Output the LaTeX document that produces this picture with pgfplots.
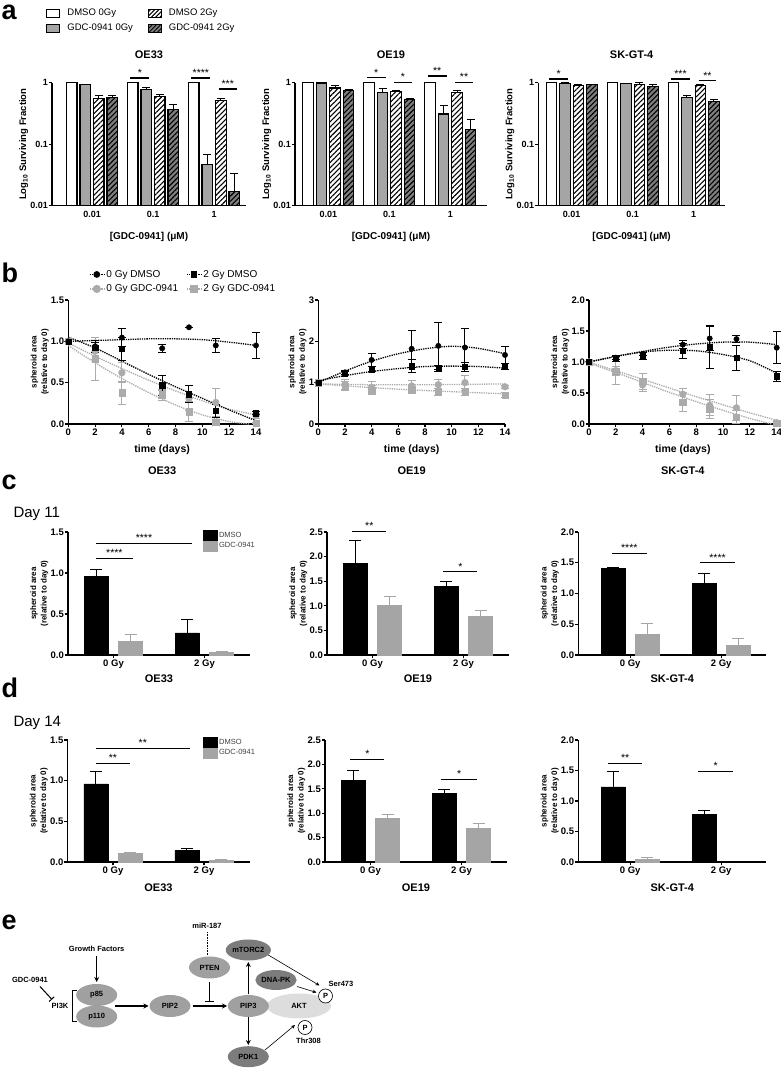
\documentclass[border=0pt]{standalone}
\usepackage{fontspec}
\setmainfont{Liberation Sans}
\usepackage{pgfplots}
\pgfplotsset{compat=1.18}
\usetikzlibrary{patterns.meta,shapes.geometric,arrows.meta}
\definecolor{gbar}{HTML}{A5A5A5}
\definecolor{gdark}{HTML}{7E7E7E}
\definecolor{gmark}{HTML}{ABABAB}
\definecolor{ecl}{HTML}{A0A0A0}
\definecolor{ecd}{HTML}{7C7C7C}
\definecolor{ecll}{HTML}{DDDDDD}
\newcommand{\fs}[1]{\fontsize{#1}{#1}\selectfont}
\newcommand{\sig}[4]{\draw[line width=1.2pt] (axis cs:#1,#3) -- (axis cs:#2,#3) node[midway,above,inner sep=1pt,font=\fs{10.5}] {#4};}
\pgfplotsset{
 mygp/.style={scale only axis, clip=false, axis lines*=left,
   axis line style={line width=1.3pt,-}, tick style={line width=1.1pt,black},
   tick align=outside, major tick length=3.5pt,
   tick label style={font=\fs{9.5}\bfseries},
   yticklabel style={inner sep=0.5pt}, xticklabel style={inner sep=1.5pt},
   ylabel style={font=\fontsize{8}{10.5}\selectfont\bfseries, align=center, inner sep=1.5pt},
   every axis x label/.style={at={(axis description cs:0.5,0)}, anchor=center},
   xlabel style={font=\fs{11}\bfseries},
 },
 mypa/.style={mygp, ymin=0.01, ymax=1, yminorticks=false,
   ytick={0.01,0.1,1}, yticklabels={0.01,0.1,1}, xtick={0,1,2}, xticklabels={0.01,0.1,1},
   xtick style={draw=none}, height=123pt,
   tick label style={font=\fs{9}\bfseries},
   ylabel={Log\textsubscript{10} Surviving Fraction}, ylabel style={font=\fs{9.5}\bfseries},
   xlabel={[GDC-0941] (μM)}, xlabel style={font=\fs{10}\bfseries, yshift=-31pt},
   every axis title/.style={at={(0.5,1)}, anchor=center, yshift=27.5pt, font=\fs{11}\bfseries},
 },
 mypb/.style={mygp, height=124pt, xmin=0, xmax=14, xtick={0,2,...,14}, ymin=0,
   ylabel={spheroid area\\(relative to day 0)},
   xlabel={time (days)}, xlabel style={font=\fs{10.5}\bfseries, yshift=-26pt}},
 mypc/.style={mygp, width=182pt, height=123pt, xmin=-0.5, xmax=1.5, xtick={0,1}, xticklabels={0 Gy,2 Gy}, ymin=0,
   ylabel={spheroid area\\(relative to day 0)}, xlabel style={yshift=-24pt}},
 mypd/.style={mypc, height=122pt, xlabel style={yshift=-1.7pt}},
 myabar/.style={ybar, bar width=10.5pt, bar shift=0pt, draw=black, line width=1.1pt},
 mywb/.style={myabar, fill=white},
 mygb/.style={myabar, fill=gbar},
 myhb/.style={myabar, pattern={Lines[angle=45,distance=3.6pt,line width=1.1pt]}},
 mydb/.style={myabar, preaction={fill=gdark}, pattern={Lines[angle=45,distance=3.6pt,line width=1.1pt]}},
 myaerr/.style={error bars/.cd, y dir=plus, y explicit, error bar style={line width=1pt,black,solid}, error mark options={rotate=90,mark size=4pt,line width=1pt,black}},
 mybk/.style={black, only marks, mark=*, mark size=2.7pt, mark options={solid}},
 mybks/.style={black, only marks, mark=square*, mark size=2.6pt, mark options={solid}},
 mygc/.style={gmark, only marks, mark=*, mark size=3.4pt, mark options={solid}},
 mygs/.style={gmark, only marks, mark=square*, mark size=3.2pt, mark options={solid}},
 myfitk/.style={black, densely dotted, line width=1.3pt, no marks, smooth, forget plot},
 myfitg/.style={gmark, densely dotted, line width=1.3pt, no marks, smooth, forget plot},
 myberr/.style={error bars/.cd, y dir=both, y explicit, error bar style={line width=1pt,solid}, error mark options={rotate=90,mark size=4pt,line width=1pt,solid}},
 mykbar/.style={ybar, bar width=24pt, bar shift=0pt, fill=black, draw=black},
 mygbarp/.style={ybar, bar width=24pt, bar shift=0pt, color=gbar, fill=gbar},
 mycerr/.style={error bars/.cd, y dir=plus, y explicit, error bar style={line width=1pt}, error mark options={rotate=90,mark size=6pt,line width=1pt}},
}
\begin{document}
\begin{tikzpicture}
\useasboundingbox (0pt,0pt) rectangle (781pt,1068pt);
% ================= panel a =================
\begin{axis}[mypa, ymode=log, log origin=infty, /pgf/number format/assume math mode=true,
  at={(52pt,862.3pt)}, anchor=south west, width=194pt, xmin=-0.656, xmax=2.524, title={OE33},
  legend style={at={(-0.045,1.625)}, anchor=north west, draw=none, fill=none, font=\fs{9.5}, legend columns=2, /tikz/every even column/.append style={column sep=14pt}, row sep=5pt, nodes={inner sep=1pt}},
  legend cell align=left,
  legend image code/.code={\draw[#1] (0pt,-4pt) rectangle (13pt,4pt); \path (19pt,0pt);}]
\addlegendimage{draw=black, line width=1pt, fill=white}
\addlegendentry{DMSO 0Gy}
\addlegendimage{draw=black, line width=1pt, pattern={Lines[angle=45,distance=3pt,line width=1pt]}}
\addlegendentry{DMSO 2Gy}
\addlegendimage{draw=black, line width=1pt, fill=gbar}
\addlegendentry{GDC-0941 0Gy}
\addlegendimage{draw=black, line width=1pt, preaction={fill=gdark}, pattern={Lines[angle=45,distance=3pt,line width=1pt]}}
\addlegendentry{GDC-0941 2Gy}
\addplot[mywb, forget plot] coordinates {(-0.332,1) (0.668,1) (1.668,1)};
\addplot[mygb, forget plot, myaerr] coordinates {(-0.111,0.92) +- (0,0.03) (0.889,0.78) +- (0,0.05) (1.889,0.047) +- (0,0.02)};
\addplot[myhb, forget plot, myaerr] coordinates {(0.111,0.56) +- (0,0.05) (1.111,0.59) +- (0,0.05) (2.111,0.52) +- (0,0.03)};
\addplot[mydb, forget plot, myaerr] coordinates {(0.332,0.57) +- (0,0.06) (1.332,0.37) +- (0,0.08) (2.332,0.017) +- (0,0.016)};
\sig{0.63}{0.94}{1.19}{*}
\sig{1.63}{1.94}{1.19}{****}
\sig{2.08}{2.37}{0.79}{***}
\end{axis}
\begin{axis}[mypa, ymode=log, log origin=infty, /pgf/number format/assume math mode=true,
  at={(295pt,862.3pt)}, anchor=south west, width=192pt, xmin=-0.546, xmax=2.602, title={OE19}]
\addplot[mywb] coordinates {(-0.332,1) (0.668,1) (1.668,1)};
\addplot[mygb, myaerr] coordinates {(-0.111,0.99) +- (0,0.01) (0.889,0.70) +- (0,0.09) (1.889,0.31) +- (0,0.11)};
\addplot[myhb, myaerr] coordinates {(0.111,0.82) +- (0,0.08) (1.111,0.73) +- (0,0.03) (2.111,0.70) +- (0,0.05)};
\addplot[mydb, myaerr] coordinates {(0.332,0.75) +- (0,0.02) (1.332,0.53) +- (0,0.02) (2.332,0.174) +- (0,0.075)};
\sig{0.63}{0.94}{1.2}{*}
\sig{1.08}{1.37}{1.02}{*}
\sig{1.63}{1.94}{1.28}{**}
\sig{2.08}{2.37}{1.02}{**}
\end{axis}
\begin{axis}[mypa, ymode=log, log origin=infty, /pgf/number format/assume math mode=true,
  at={(538.3pt,862.3pt)}, anchor=south west, width=186.7pt, xmin=-0.547, xmax=2.514, title={SK-GT-4}]
\addplot[mywb] coordinates {(-0.332,1) (0.668,1) (1.668,1)};
\addplot[mygb, myaerr] coordinates {(-0.111,0.98) +- (0,0.01) (0.889,0.97) +- (0,0.01) (1.889,0.58) +- (0,0.04)};
\addplot[myhb, myaerr] coordinates {(0.111,0.90) +- (0,0.02) (1.111,0.92) +- (0,0.07) (2.111,0.90) +- (0,0.03)};
\addplot[mydb, myaerr] coordinates {(0.332,0.93) +- (0,0.02) (1.332,0.86) +- (0,0.07) (2.332,0.50) +- (0,0.03)};
\sig{-0.37}{-0.06}{1.15}{*}
\sig{1.63}{1.94}{1.15}{***}
\sig{2.08}{2.37}{1.07}{**}
\end{axis}
% ================= panel b =================
\begin{axis}[mypb, /pgf/number format/assume math mode=true, at={(68.3pt,644pt)}, anchor=south west, width=187.7pt, ymax=1.5,
  ytick={0,0.5,1,1.5}, yticklabels={0.0,0.5,1.0,1.5},
  legend style={at={(0.094,1.274)}, anchor=north west, draw=none, fill=none, font=\fs{10}, legend columns=2, /tikz/every even column/.append style={column sep=6pt}, row sep=2pt},
  legend cell align=left,
  legend image code/.code={\draw[mark repeat=2,mark phase=2,#1] plot coordinates {(0pt,0pt) (7pt,0pt) (14pt,0pt)};}]
\addlegendimage{black, densely dotted, line width=1.3pt, mark=*, mark size=2.7pt, mark options={solid}}
\addlegendentry{0 Gy DMSO}
\addlegendimage{black, densely dotted, line width=1.3pt, mark=square*, mark size=2.6pt, mark options={solid}}
\addlegendentry{2 Gy DMSO}
\addlegendimage{gmark, densely dotted, line width=1.3pt, mark=*, mark size=3.4pt, mark options={solid}}
\addlegendentry{0 Gy GDC-0941}
\addlegendimage{gmark, densely dotted, line width=1.3pt, mark=square*, mark size=3.2pt, mark options={solid}}
\addlegendentry{2 Gy GDC-0941}
\addplot[myfitg] coordinates {(0,0.98) (2,0.82) (4,0.67) (6,0.53) (8,0.40) (10,0.28) (12,0.18) (14,0.11)};
\addplot[myfitg] coordinates {(0,0.95) (2,0.74) (4,0.55) (6,0.38) (8,0.23) (10,0.11) (12,0.03) (13.5,0)};
\addplot[myfitk] coordinates {(0,1.0) (2,1.01) (4,1.02) (6,1.03) (8,1.03) (10,1.02) (12,0.99) (14,0.95)};
\addplot[myfitk] coordinates {(0,1.05) (2,0.92) (4,0.76) (6,0.60) (8,0.45) (10,0.31) (12,0.17) (14,0.04)};
\addplot[mygc, forget plot, myberr] coordinates {(0,1) +- (0,0) (2,0.88) +- (0,0.1) (4,0.62) +- (0,0.12) (7,0.35) +- (0,0.07) (9,0.31) +- (0,0.15) (11,0.26) +- (0,0.17) (14,0.10) +- (0,0.03)};
\addplot[mygs, forget plot, myberr] coordinates {(0,1) +- (0,0) (2,0.79) +- (0,0.26) (4,0.38) +- (0,0.14) (7,0.36) +- (0,0.05) (9,0.15) +- (0,0.12) (11,0.02) +- (0,0.02) (14,0.01) +- (0,0.01)};
\addplot[mybk, forget plot, myberr] coordinates {(0,1) +- (0,0) (2,0.94) +- (0,0.07) (4,1.045) +- (0,0.11) (7,0.915) +- (0,0.05) (9,1.17) +- (0,0) (11,0.95) +- (0,0.09) (14,0.95) +- (0,0.16)};
\addplot[mybks, forget plot, myberr] coordinates {(0,1) +- (0,0) (2,0.92) +- (0,0.06) (4,0.91) +- (0,0.14) (7,0.47) +- (0,0.12) (9,0.36) +- (0,0.1) (11,0.16) +- (0,0.08) (14,0.13) +- (0,0.02)};
\node[font=\fs{11}\bfseries, yshift=-47pt] at (axis description cs:0.5,0) {OE33};
\end{axis}
\begin{axis}[mypb, /pgf/number format/assume math mode=true, at={(318.3pt,644pt)}, anchor=south west, width=186.7pt, ymax=3,
  ytick={0,1,2,3}, yticklabels={0,1,2,3}]
\addplot[myfitg] coordinates {(0,0.97) (4,0.95) (8,0.95) (14,0.97)};
\addplot[myfitg] coordinates {(0,0.97) (4,0.88) (8,0.81) (14,0.73)};
\addplot[myfitk] coordinates {(0,1.0) (2,1.28) (4,1.52) (6,1.70) (8,1.82) (10,1.88) (12,1.83) (14,1.70)};
\addplot[myfitk] coordinates {(0,1.05) (2,1.17) (4,1.27) (6,1.34) (8,1.39) (10,1.40) (12,1.39) (14,1.35)};
\addplot[mygc, myberr] coordinates {(0,1) +- (0,0) (2,0.95) +- (0,0.12) (4,0.88) +- (0,0.16) (7,0.92) +- (0,0.13) (9,0.95) +- (0,0.13) (11,1.0) +- (0,0.18) (14,0.90) +- (0,0.04)};
\addplot[mygs, myberr] coordinates {(0,1) +- (0,0) (2,0.92) +- (0,0.1) (4,0.82) +- (0,0.1) (7,0.83) +- (0,0.08) (9,0.78) +- (0,0.09) (11,0.78) +- (0,0.09) (14,0.70) +- (0,0.07)};
\addplot[mybk, myberr] coordinates {(0,1) +- (0,0) (2,1.25) +- (0,0.05) (4,1.55) +- (0,0.16) (7,1.82) +- (0,0.45) (9,1.89) +- (0,0.56) (11,1.85) +- (0,0.46) (14,1.67) +- (0,0.2)};
\addplot[mybks, myberr] coordinates {(0,1) +- (0,0) (2,1.23) +- (0,0.04) (4,1.32) +- (0,0.06) (7,1.40) +- (0,0.16) (9,1.35) +- (0,0.07) (11,1.38) +- (0,0.1) (14,1.39) +- (0,0.07)};
\node[font=\fs{11}\bfseries, yshift=-47pt] at (axis description cs:0.5,0) {OE19};
\end{axis}
\begin{axis}[mypb, /pgf/number format/assume math mode=true, at={(589pt,644pt)}, anchor=south west, width=187.7pt, ymax=2,
  ytick={0,0.5,1,1.5,2}, yticklabels={0.0,0.5,1.0,1.5,2.0}]
\addplot[myfitg] coordinates {(0,1.0) (2,0.86) (4,0.72) (6,0.58) (8,0.44) (10,0.31) (12,0.18) (14,0.06)};
\addplot[myfitg] coordinates {(0,0.98) (2,0.83) (4,0.67) (6,0.51) (8,0.36) (10,0.22) (12,0.09) (13.6,0)};
\addplot[myfitk] coordinates {(0,1) (2,1.09) (4,1.17) (6,1.24) (8,1.29) (10,1.32) (12,1.32) (14,1.28)};
\addplot[myfitk] coordinates {(0,1.0) (2,1.09) (4,1.16) (6,1.19) (8,1.18) (10,1.12) (12,1.02) (14,0.82)};
\addplot[mygc, myberr] coordinates {(0,1) +- (0,0) (2,0.86) +- (0,0.07) (4,0.63) +- (0,0.1) (7,0.48) +- (0,0.1) (9,0.30) +- (0,0.17) (11,0.26) +- (0,0.2) (14,0.02) +- (0,0.02)};
\addplot[mygs, myberr] coordinates {(0,1) +- (0,0) (2,0.85) +- (0,0.22) (4,0.69) +- (0,0.13) (7,0.35) +- (0,0.15) (9,0.24) +- (0,0.15) (11,0.11) +- (0,0.1) (14,0.01) +- (0,0.01)};
\addplot[mybk, myberr] coordinates {(0,1) +- (0,0) (2,1.07) +- (0,0.03) (4,1.13) +- (0,0.03) (7,1.28) +- (0,0.07) (9,1.38) +- (0,0.2) (11,1.37) +- (0,0.06) (14,1.23) +- (0,0.26)};
\addplot[mybks, myberr] coordinates {(0,1) +- (0,0) (2,1.05) +- (0,0.04) (4,1.10) +- (0,0.06) (7,1.18) +- (0,0.12) (9,1.24) +- (0,0.35) (11,1.07) +- (0,0.2) (14,0.77) +- (0,0.08)};
\node[font=\fs{11}\bfseries, yshift=-47pt] at (axis description cs:0.5,0) {SK-GT-4};
\end{axis}
% ================= panel c =================
\begin{axis}[mypc, /pgf/number format/assume math mode=true, at={(68pt,413pt)}, anchor=south west, ymax=1.5,
  ytick={0,0.5,1,1.5}, yticklabels={0.0,0.5,1.0,1.5}, xlabel={OE33},
  legend style={at={(0.725,1.033)}, anchor=north west, draw=none, fill=none, font=\fs{7.5}, row sep=0pt, nodes={inner sep=1.5pt}, text=black!75},
  legend cell align=left,
  legend image code/.code={\fill[#1] (0pt,-5pt) rectangle (14pt,5pt);}]
\addlegendimage{black}\addlegendentry{DMSO}
\addlegendimage{gbar}\addlegendentry{GDC-0941}
\addplot[mykbar, forget plot, mycerr] coordinates {(-0.187,0.96) +- (0,0.08) (0.813,0.27) +- (0,0.16)};
\addplot[mygbarp, forget plot, mycerr] coordinates {(0.187,0.17) +- (0,0.08) (1.187,0.03) +- (0,0.01)};
\sig{-0.19}{0.21}{1.18}{****}
\sig{-0.19}{0.86}{1.36}{****}
\end{axis}
\begin{axis}[mypc, /pgf/number format/assume math mode=true, at={(327pt,413pt)}, anchor=south west, ymax=2.5,
  ytick={0,0.5,1,1.5,2,2.5}, yticklabels={0.0,0.5,1.0,1.5,2.0,2.5}, xlabel={OE19}]
\addplot[mykbar, mycerr] coordinates {(-0.187,1.86) +- (0,0.46) (0.813,1.39) +- (0,0.10)};
\addplot[mygbarp, mycerr] coordinates {(0.187,1.01) +- (0,0.17) (1.187,0.79) +- (0,0.11)};
\sig{-0.22}{0.15}{2.51}{**}
\sig{0.78}{1.15}{1.69}{*}
\end{axis}
\begin{axis}[mypc, /pgf/number format/assume math mode=true, at={(578.3pt,413pt)}, anchor=south west, width=188pt, xmin=-0.57, xmax=1.496, ymax=2,
  ytick={0,0.5,1,1.5,2}, yticklabels={0.0,0.5,1.0,1.5,2.0}, xlabel={SK-GT-4}]
\addplot[mykbar, mycerr] coordinates {(-0.187,1.41) +- (0,0.01) (0.813,1.16) +- (0,0.16)};
\addplot[mygbarp, mycerr] coordinates {(0.187,0.34) +- (0,0.17) (1.187,0.16) +- (0,0.11)};
\sig{-0.2}{0.18}{1.65}{****}
\sig{0.77}{1.15}{1.5}{****}
\end{axis}
% ================= panel d =================
\begin{axis}[mypd, /pgf/number format/assume math mode=true, at={(67.5pt,206pt)}, anchor=south west, ymax=1.5,
  ytick={0,0.5,1,1.5}, yticklabels={0.0,0.5,1.0,1.5}, xlabel={OE33},
  legend style={at={(0.728,1.041)}, anchor=north west, draw=none, fill=none, font=\fs{7.5}, row sep=0pt, nodes={inner sep=1.5pt}, text=black!75},
  legend cell align=left,
  legend image code/.code={\fill[#1] (0pt,-5pt) rectangle (14pt,5pt);}]
\addlegendimage{black}\addlegendentry{DMSO}
\addlegendimage{gbar}\addlegendentry{GDC-0941}
\addplot[mykbar, forget plot, mycerr] coordinates {(-0.187,0.96) +- (0,0.15) (0.813,0.14) +- (0,0.02)};
\addplot[mygbarp, forget plot, mycerr] coordinates {(0.187,0.11) +- (0,0.01) (1.187,0.02) +- (0,0.005)};
\sig{-0.19}{0.19}{1.21}{**}
\sig{-0.19}{0.845}{1.40}{**}
\end{axis}
\begin{axis}[mypd, /pgf/number format/assume math mode=true, at={(325pt,206pt)}, anchor=south west, ymax=2.5,
  ytick={0,0.5,1,1.5,2,2.5}, yticklabels={0.0,0.5,1.0,1.5,2.0,2.5}, xlabel={OE19}]
\addplot[mykbar, mycerr] coordinates {(-0.187,1.68) +- (0,0.19) (0.813,1.40) +- (0,0.08)};
\addplot[mygbarp, mycerr] coordinates {(0.187,0.89) +- (0,0.09) (1.187,0.69) +- (0,0.09)};
\sig{-0.22}{0.15}{2.1}{*}
\sig{0.78}{1.17}{1.69}{*}
\end{axis}
\begin{axis}[mypd, /pgf/number format/assume math mode=true, at={(578.3pt,206pt)}, anchor=south west, width=188pt, xmin=-0.57, xmax=1.496, ymax=2,
  ytick={0,0.5,1,1.5,2}, yticklabels={0.0,0.5,1.0,1.5,2.0}, xlabel={SK-GT-4}]
\addplot[mykbar, mycerr] coordinates {(-0.187,1.23) +- (0,0.26) (0.813,0.78) +- (0,0.07)};
\addplot[mygbarp, mycerr] coordinates {(0.187,0.05) +- (0,0.02)};
\sig{-0.24}{0.13}{1.62}{**}
\sig{0.75}{1.13}{1.49}{*}
\end{axis}
% ================= letters, day labels, panel e =================
\begin{scope}[shift={(0pt,1068pt)}, x=1pt, y=-1pt]
\foreach \l/\yy in {a/20, b/283, c/490, d/698, e/930}
  \node[anchor=base west, font=\fs{27}\bfseries, inner sep=0pt] at (1.5,\yy) {\l};
\node[anchor=base west, font=\fs{15}, inner sep=0pt] at (13.3,517.3) {Day 11};
\node[anchor=base west, font=\fs{15}, inner sep=0pt] at (13.3,726.7) {Day 14};
\begin{scope}[font=\fs{7.5}\bfseries,
  el/.style={ellipse, minimum width=41pt, minimum height=22pt, inner sep=0pt},
  bigarr/.style={line width=1.3pt, -{Stealth[length=5pt,width=5pt]}},
  thinarr/.style={line width=0.6pt, -{Stealth[length=4pt,width=3.5pt]}}]
\node at (96.7,949) {Growth Factors};
\draw[bigarr] (96.7,956) -- (96.7,982);
\node[el, fill=ecl] at (96.7,995) {p85};
\node[el, fill=ecl] at (96.7,1016.5) {p110};
\draw[line width=0.7pt] (76.5,990.5) -- (72,990.5) -- (72,1021) -- (76.5,1021);
\node at (60,1005.5) {PI3K};
\node at (30,980) {GDC-0941};
\draw[line width=1pt, -{Bar[width=7pt]}] (40,986.5) -- (52,999.5);
\draw[bigarr] (115,1006) -- (148.5,1006);
\node[el, fill=ecl] at (170,1006) {PIP2};
\draw[bigarr] (192.7,1006) -- (227,1006);
\node[el, fill=ecl] at (209.5,967.5) {PTEN};
\node at (207,925.7) {miR-187};
\draw[densely dotted, line width=0.6pt] (207,932) -- (207,955.5);
\draw[line width=1.3pt, -{Bar[width=9pt]}] (209.5,982) -- (209.5,1002);
\node[el, fill=ecll, minimum width=64pt, minimum height=25pt] at (299,1006) {AKT};
\node[el, fill=ecl] at (248.3,1006) {PIP3};
\node[el, fill=ecd, minimum height=21pt] at (248.3,950) {mTORC2};
\node[el, fill=ecd, minimum width=39pt, minimum height=20pt] at (276,980) {DNA-PK};
\node[el, fill=ecd, minimum height=21pt] at (248.3,1056.7) {PDK1};
\draw[bigarr] (248.3,994.5) -- (248.3,962);
\draw[bigarr] (248.3,1017.5) -- (248.3,1045);
\node at (341,984) {Ser473};
\node at (308.5,1041) {Thr308};
\draw[thinarr] (268.3,955) -- (319.5,985.5);
\draw[thinarr] (297,986.5) -- (316.5,992.5);
\draw[thinarr] (265,1050) -- (295,1025);
\node[circle, draw, line width=0.6pt, fill=white, minimum size=14pt, inner sep=0pt] at (325.5,996) {P};
\node[circle, draw, line width=0.6pt, fill=white, minimum size=14pt, inner sep=0pt] at (305,1027.5) {P};
\end{scope}
\end{scope}
\end{tikzpicture}
\end{document}
